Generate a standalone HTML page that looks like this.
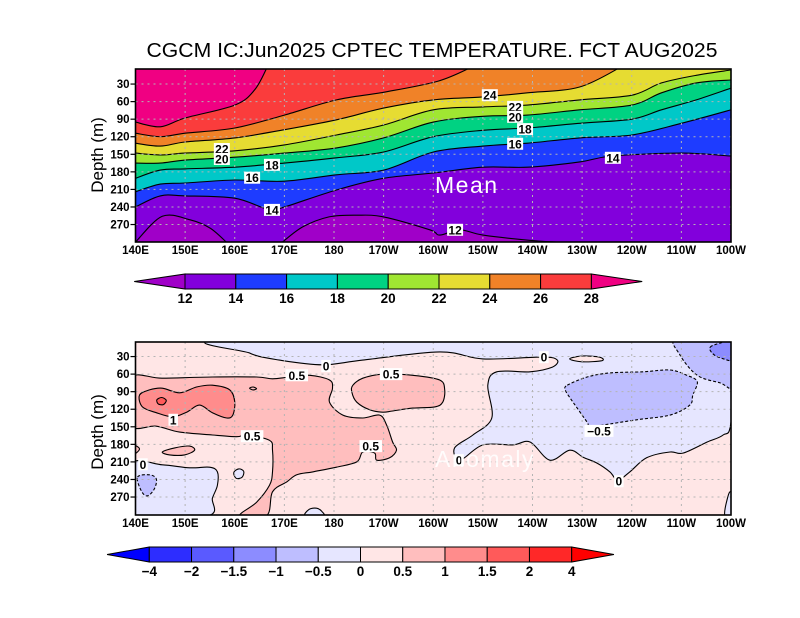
<!DOCTYPE html>
<html><head><meta charset="utf-8">
<style>
html,body{margin:0;padding:0;background:#fff;}
svg{display:block;font-family:"Liberation Sans",sans-serif;}
</style></head>
<body>
<svg id="chart" width="800" height="618" viewBox="0 0 800 618" xmlns="http://www.w3.org/2000/svg">
<rect width="800" height="618" fill="#fff"/>
<text x="432" y="57" font-size="20" text-anchor="middle" textLength="571" lengthAdjust="spacingAndGlyphs" fill="#000">CGCM IC:Jun2025 CPTEC TEMPERATURE. FCT AUG2025</text>
<defs>
<clipPath id="clipTop"><rect x="135.5" y="69" width="595.5" height="173"/></clipPath>
<clipPath id="clipBot"><rect x="135.5" y="342" width="595.5" height="173"/></clipPath>
</defs>
<g id="topFill" clip-path="url(#clipTop)"></g>
<g id="botFill" clip-path="url(#clipBot)"></g>
<g id="overlay"></g>
</svg>
<script>
// ---------- data: mean panel isotherms (longitude deg E, depth m) ----------
const lonTicks = [140,150,160,170,180,190,200,210,220,230,240,250,260];
const lonTickLabels = ["140E","150E","160E","170E","180","170W","160W","150W","140W","130W","120W","110W","100W"];
const depthTicks = [30,60,90,120,150,180,210,240,270];
const iso28 = [[140,95],[145,103],[150,88],[160,66],[164,40],[166.6,0]];
const iso26 = [[140,114],[145,120],[150,114],[160,105],[170,83],[180.5,57],[190,44],[201,25],[208,0]];
const iso24 = [[140,131],[145,136],[150,129],[160,122],[170,108],[180.5,91],[190,71],[200,57],[210,52],[219,45],[229.5,35],[238,0]];
const iso22 = [[140,148],[145,151],[150,148],[160,144],[170,134],[180.5,117],[190,100],[200,74],[210,69],[219,66],[229.5,57],[240,49],[246,28],[253,15],[260,6]];
const iso20 = [[140,165],[145,165],[150,160],[160,155],[170,148],[180.5,139],[190,122],[200,95],[210,85],[219,83],[229.5,74],[240,66],[246,45],[253,28],[260,23]];
const iso18 = [[140,191],[145,177],[150,175],[160,172],[170,165],[180.5,156],[190,146],[200,120],[210,109],[219,105],[229.5,97],[240,90],[246,74],[253,57],[260,37]];
const iso16 = [[140,214],[145,201],[150,199],[160,194],[170,196],[180.5,185],[190,177],[200,146],[210,136],[219,131],[229.5,122],[240,117],[250,97],[260,74]];
const iso14 = [[140,240],[145,221],[150,221],[160,225],[167,245],[170,240],[180.5,211],[190,191],[200,182],[210,172],[219,172],[229.5,163],[236,153],[250,148],[260,153]];
const iso12a = [[140,300],[145.4,256],[151,262],[155,276],[158.3,300]];
const iso12b = [[169.6,300],[173.7,274],[179,257],[184.6,254],[190,257],[199.3,279],[201.3,288],[205.3,279],[210,288],[219.4,297],[225,300]];
const meanLevels = [12,14,16,18,20,22,24,26,28];
const meanColors = ["#a000c8","#8200dc","#1e3cff","#00c8c8","#00d282","#a0e632","#e6dc32","#f08228","#fa3c3c","#f00082"];
const meanLabelText = ["22","20","18","16","14","24","22","20","18","16","14","12"];
const meanLabelLon = [157.4,157.4,167.5,163.5,167.5,211.4,216.5,216.5,218.5,216.5,236.2,204.4];
const meanLabelDep = [141,158,168,190,245,49,69,86,107,132,156,279];

// ---------- data: anomaly panel regions ----------
const anomNeg0 = [[161,0],[163,24],[169,36],[177.7,44],[185.8,36],[201.3,22],[210,34],[222,31],[225,36],[224,48],[219.5,56],[212.8,56],[211,79],[211.8,135],[208,164],[204.3,186],[205.4,207],[210,181],[216,181],[219.5,176],[223.5,207],[227.5,190],[230.2,202],[233,212],[235.6,227],[237.2,241],[239.6,227],[243,203],[247.7,193],[250.3,195],[255.2,176],[258.4,164],[260,142],[261,0]];
const anomNeg0Left = [[139,214],[145.4,215],[150.9,220],[154.9,219],[156.5,227],[156.5,250],[155.5,272],[154.5,302],[139,302]];
const anomNeg0IslA = [[159.8,228],[160.8,222],[161.8,226],[161.5,236],[160.3,238]];
const anomNeg0IslB = [[174.2,302],[175,291],[176.5,289],[177.6,295],[177.8,302]];
const anomNeg0IslC = [[258.8,302],[259.2,275],[260,262],[261,302]];
const anomPosIsl = [[227.5,34],[230,29],[233.5,31],[234,37],[230,39]];
const anomNeg05A = [[227,79],[231,65],[235.6,58],[242.3,56],[247.7,53],[251.1,62],[253.2,73],[252.3,96],[251.7,113],[247.7,130],[241,138],[234.2,147],[231.6,150],[231,142],[229,118],[227.6,101],[226.6,87]];
const anomNeg05B = [[249.1,-2],[249.7,27],[253.2,62],[257.8,75],[261,82],[261,-2]];
const anomNeg05C = [[140.4,236],[142.8,232],[144.2,239],[143.8,256],[142.4,268],[141.2,260]];
const anomNeg10 = [[255.8,14],[257.8,7],[261,2],[261,36],[257.8,32],[256.2,24]];
const anomPos05Main = [[139,67],[145.4,67],[155.5,65],[164.4,65],[167.6,68],[171.1,65],[175.1,62],[179.1,70],[179.7,84],[179.1,108],[181.8,130],[185.8,135],[189.2,130],[190.6,147],[191.8,176],[192.6,190],[191.2,203],[188.6,207],[188.2,195],[185.8,193],[184.6,210],[180.5,219],[175.7,227],[172.5,232],[170.5,244],[167.6,261],[166.4,302],[161,302],[164.4,279],[167,250],[167.6,227],[167.6,190],[167,173],[162.4,164],[160.4,167],[155.5,164],[148.9,159],[144.2,149],[139,147]];
const anomPos05Right = [[183.8,79],[185.8,67],[189.8,60],[195.9,62],[201.3,70],[202.3,87],[201.9,108],[200.3,116],[195.9,118],[191.8,123],[189.8,125],[187.2,121],[184.6,108],[183.6,91]];
const anomPos05IslA = [[163,84],[163.7,82],[164.4,85],[163.7,87]];
const anomPos05IslB = [[145.4,193],[147.9,186],[150.9,183],[151.9,190],[149.9,198],[146.9,198]];
const anomPos05IslC = [[139,180],[140.8,188],[139,200]];
const anomPos10 = [[140.8,96],[142.8,87],[145.4,84],[148.9,92],[152.3,82],[155.5,79],[159,87],[160,108],[159.6,130],[158.4,135],[155.5,126],[152.9,113],[150.3,125],[147.5,133],[144.2,126],[141.4,116]];
const anomPos15 = [[144.3,104],[145.3,100],[146.2,105],[145.6,112],[144.6,111]];
const anomLevels = ["−4","−2","−1.5","−1","−0.5","0","0.5","1","1.5","2","4"];
const anomColors = ["#0000ff","#2d2dff","#5a5aff","#8c8cff","#bebeff","#e6e6ff","#ffe6e6","#ffbebe","#ff8c8c","#ff5a5a","#ff2828","#ff0000"];
const anomLabelText = ["0","0.5","0.5","1","0.5","0.5","0","0","−0.5","0","0"];
const anomLabelLon = [178.4,172.5,191.5,147.6,163.5,187.4,141.5,222.3,233.4,237.4,205.2];
const anomLabelDep = [46,62,60,138,166,183,214,31,157,243,207];

// ---------- axis functions ----------
const X0 = 135.5, X1 = 731, TOP0 = 66.5, BOT0 = 339, DSC = 0.5853;
function xScale(lon){ return X0 + (lon-140)*(X1-X0)/120; }
function yTop(d){ return TOP0 + d*DSC; }
function yBot(d){ return BOT0 + d*DSC; }

const NS = "http://www.w3.org/2000/svg";
function mk(tag, attrs, parent){
  const e = document.createElementNS(NS, tag);
  for (const k in attrs) e.setAttribute(k, attrs[k]);
  parent.appendChild(e);
  return e;
}
function toXY(arr, yf){ return arr.map(p => [xScale(p[0]), yf(p[1])]); }
function f(v){ return v.toFixed(1); }
// Catmull-Rom smoothed path
function smooth(P, closed){
  const n = P.length;
  const get = i => closed ? P[(i+n)%n] : P[Math.max(0, Math.min(n-1, i))];
  let d = "M" + f(P[0][0]) + "," + f(P[0][1]);
  const segs = closed ? n : n-1;
  for (let i=0;i<segs;i++){
    const p0 = get(i-1), p1 = get(i), p2 = get(i+1), p3 = get(i+2);
    const c1 = [p1[0]+(p2[0]-p0[0])/6, p1[1]+(p2[1]-p0[1])/6];
    const c2 = [p2[0]-(p3[0]-p1[0])/6, p2[1]-(p3[1]-p1[1])/6];
    d += " C" + f(c1[0])+","+f(c1[1])+" "+f(c2[0])+","+f(c2[1])+" "+f(p2[0])+","+f(p2[1]);
  }
  return d + (closed ? " Z" : "");
}

const topFill = document.getElementById("topFill");
const botFill = document.getElementById("botFill");
const overlay = document.getElementById("overlay");

// ---------- mean panel ----------
const bgTop = mk("rect", {x:X0, y:69, width:X1-X0, height:173, fill:meanColors[9]}, topFill);


const isoList = [iso28, iso26, iso24, iso22, iso20, iso18, iso16, iso14];
isoList.forEach((iso, i) => {
  const P = toXY(iso, yTop);
  const d = smooth(P, false) + " L" + f(xScale(260)) + "," + f(yTop(-10)) + " L" + f(xScale(262)) + "," + f(yTop(-10)) + " L" + f(xScale(262)) + "," + f(yTop(310)) + " L" + f(xScale(138)) + "," + f(yTop(310)) + " L" + f(xScale(138)) + "," + f(P[0][1]) + " Z";
  const band = mk("path", {d: d, fill: meanColors[8-i]}, topFill);
  
  
});
[iso12a, iso12b].forEach((iso) => {
  const reg = mk("path", {d: smooth(toXY(iso, yTop), false) + " Z", fill: meanColors[0]}, topFill);
  
  
});
isoList.concat([iso12a, iso12b]).forEach((iso) => {
  const ln = mk("path", {d: smooth(toXY(iso, yTop), false), fill:"none", stroke:"#000", "stroke-width":1.1}, topFill);
  
  
});

// ---------- anomaly panel ----------
const bgBot = mk("rect", {x:X0, y:342, width:X1-X0, height:173, fill:anomColors[6]}, botFill);


function region(arr, color, dashed, name){
  const p = mk("path", {d: smooth(toXY(arr, yBot), true), fill: color, stroke:"#000", "stroke-width":1.1}, botFill);
  if (dashed) p.setAttribute("stroke-dasharray", "3,2");
  
  
  return p;
}
region(anomNeg0, anomColors[5], false, 'anomaly-negative-region');
region(anomNeg0Left, anomColors[5], false, 'anomaly-negative-region-west');
region(anomNeg0IslA, anomColors[5], false, 'anomaly-negative-island');
region(anomNeg0IslB, anomColors[5], false, 'anomaly-negative-island');
region(anomNeg0IslC, anomColors[5], false, 'anomaly-negative-island');
region(anomPosIsl, anomColors[6], false, 'anomaly-positive-island');
region(anomNeg05A, anomColors[4], true, 'anomaly-minus-half-region');
region(anomNeg05B, anomColors[4], true, 'anomaly-minus-half-region-east');
region(anomNeg05C, anomColors[4], true, 'anomaly-minus-half-region-west');
region(anomNeg10, anomColors[3], true, 'anomaly-minus-one-region');
region(anomPos05Main, anomColors[7], false, 'anomaly-half-region');
region(anomPos05Right, anomColors[7], false, 'anomaly-half-region-east');
region(anomPos05IslA, anomColors[7], false, 'anomaly-half-island');
region(anomPos05IslB, anomColors[7], false, 'anomaly-half-island');
region(anomPos05IslC, anomColors[7], false, 'anomaly-half-island');
region(anomPos10, anomColors[8], false, 'anomaly-one-region');
region(anomPos15, anomColors[9], false, 'anomaly-one-half-region');

// ---------- grids, frames, axes ----------
function panel(yf, frameTop, titleY, suffix){
  lonTicks.forEach((lon, i) => {
    if (i>0 && i<lonTicks.length-1){
      const g = mk("line", {x1:xScale(lon), x2:xScale(lon), y1:frameTop, y2:frameTop+173, stroke:"#b4b4b4", "stroke-width":1, "stroke-dasharray":"2,4"}, overlay);
      
      
    }
    const t = mk("text", {x:xScale(lon), y:frameTop+185, "font-size":11.5, "font-weight":"bold", "text-anchor":"middle", fill:"#000"}, overlay);
    t.textContent = lonTickLabels[i];
    
    
  });
  depthTicks.forEach((d) => {
    const g = mk("line", {x1:X0, x2:X1, y1:yf(d), y2:yf(d), stroke:"#b4b4b4", "stroke-width":1, "stroke-dasharray":"2,4"}, overlay);
    
    
    const tk = mk("line", {x1:X0-5, x2:X0, y1:yf(d), y2:yf(d), stroke:"#000", "stroke-width":1.2}, overlay);
    
    
    const t = mk("text", {x:X0-6, y:yf(d)+4, "font-size":11.5, "font-weight":"bold", "text-anchor":"end", fill:"#000"}, overlay);
    t.textContent = String(d);
    
    
  });
  const fr = mk("rect", {x:X0, y:frameTop, width:X1-X0, height:173, fill:"none", stroke:"#000", "stroke-width":1.6}, overlay);
  
  
  const yt = mk("text", {x:0, y:0, "font-size":17, "text-anchor":"middle", fill:"#000", transform:"translate(103,"+titleY+") rotate(-90)"}, overlay);
  yt.textContent = "Depth (m)";
  
  
}
panel(yTop, 69, 155, 'mean');
panel(yBot, 342, 432, 'anomaly');

function clabel(txt, lon, y){
  const w = txt.length*6.5 + 3;
  const r = mk("rect", {x:xScale(lon)-w/2, y:y-6, width:w, height:12, fill:"#fff"}, overlay);
  
  
  const t = mk("text", {x:xScale(lon), y:y+4.5, "font-size":12, "font-weight":"bold", "text-anchor":"middle", fill:"#000"}, overlay);
  t.textContent = txt;
  
  
}
meanLabelText.forEach((s,i) => clabel(s, meanLabelLon[i], yTop(meanLabelDep[i])));
anomLabelText.forEach((s,i) => clabel(s, anomLabelLon[i], yBot(anomLabelDep[i])));

const meanTxt = mk("text", {x:435, y:193, "font-size":23, fill:"#fff", "letter-spacing":"1.5"}, overlay);
meanTxt.textContent = "Mean";


const anomTxt = mk("text", {x:435, y:467, "font-size":23, fill:"#fff", "fill-opacity":0.85, "letter-spacing":"1.5"}, overlay);
anomTxt.textContent = "Anomaly";



// ---------- colorbars ----------
function colorbar(levels, colors, x0, w, y0, h, suffix){
  const n = levels.length - 1;
  const tl = mk("polygon", {points:(x0-w)+","+(y0+h/2)+" "+x0+","+y0+" "+x0+","+(y0+h), fill:colors[0], stroke:"#000", "stroke-width":1}, overlay);
  
  
  for (let i=0;i<n;i++){
    const b = mk("rect", {x:x0+i*w, y:y0, width:w, height:h, fill:colors[i+1], stroke:"#000", "stroke-width":1}, overlay);
    
    
  }
  const xe = x0+n*w;
  const tr = mk("polygon", {points:xe+","+y0+" "+(xe+w)+","+(y0+h/2)+" "+xe+","+(y0+h), fill:colors[colors.length-1], stroke:"#000", "stroke-width":1}, overlay);
  
  
  levels.forEach((lv,i) => {
    const t = mk("text", {x:x0+i*w, y:y0+h+14, "font-size":13.5, "font-weight":"bold", "text-anchor":"middle", fill:"#000"}, overlay);
    t.textContent = String(lv);
    
    
  });
}
colorbar(meanLevels, meanColors, 185, 50.8, 274, 15, 'mean');
colorbar(anomLevels, anomColors, 149.3, 42.24, 547, 15, 'anomaly');
</script>
</body></html>
